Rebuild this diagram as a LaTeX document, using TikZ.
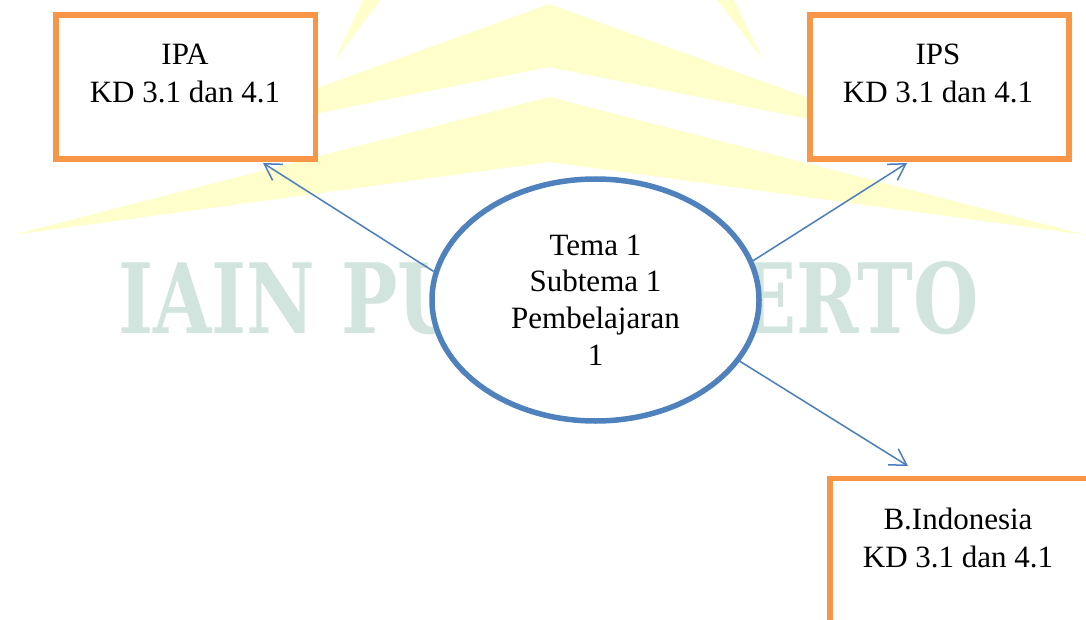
\documentclass[tikz,border=0pt]{standalone}
\usepackage{fontspec}
\usepackage{graphicx}
\setmainfont{Liberation Serif}
\newfontfamily\wmfont{DejaVu Serif}
\usetikzlibrary{arrows.meta,shapes.geometric}
\definecolor{kdorange}{HTML}{F79646}
\definecolor{ellblue}{HTML}{4F81BD}
\definecolor{arrblue}{HTML}{4A7EBB}
\definecolor{wmyellow}{HTML}{FFFFCC}
\definecolor{wmgreen}{HTML}{D2E4DE}
\begin{document}
\begin{tikzpicture}[x=1pt,y=-1pt,
  kdbox/.style={rectangle, draw=kdorange, line width=5.5pt, fill=white, inner sep=0pt, outer sep=0pt},
  kdtext/.style={anchor=base, align=center, inner sep=0pt, font=\fontsize{31}{38}\selectfont},
  centre/.style={ellipse, draw=ellblue, line width=5.5pt, fill=white, inner sep=0pt, align=center,
    minimum width=327pt, minimum height=242pt, font=\fontsize{31}{36.7}\selectfont},
  conn/.style={draw=arrblue, line width=1.5pt, -{Straight Barb[length=16pt,width=19pt,line width=1.5pt]}}]
\useasboundingbox (0,0) rectangle (1086,620);
\clip (0,0) rectangle (1086,620);
% watermark
\fill[wmyellow] (549,4) -- (160,145) -- (549,67) -- (938,145) -- cycle;
\fill[wmyellow] (549,97) -- (12,235) -- (549,162) -- (1086,235) -- cycle;
\fill[wmyellow] (335,60) -- (364,-2) -- (382,-2) -- cycle;
\fill[wmyellow] (763,60) -- (716,-2) -- (733,-2) -- cycle;
\node[anchor=south west, inner sep=0pt, text=wmgreen] (wm) at (118,335)
  {\resizebox{860pt}{72pt}{\wmfont\bfseries IAIN PURWOKERTO}};
% boxes
\node[kdbox, minimum width=259.5pt, minimum height=144pt] (ipa) at (185.75,87) {};
\node[kdtext] (ipat) at (185,103) {IPA\\KD 3.1 dan 4.1};
\node[kdbox, minimum width=259pt, minimum height=144pt] (ips) at (939.5,87) {};
\node[kdtext] (ipst) at (938,103) {IPS\\KD 3.1 dan 4.1};
\node[kdbox, minimum width=260pt, minimum height=180pt] (bind) at (960,568.5) {};
\node[kdtext] (bindt) at (958,567) {B.Indonesia\\KD 3.1 dan 4.1};
% centre
\node[centre] (ell) at (595.5,300) {Tema 1\\Subtema 1\\Pembelajaran\\1};
% connectors
\draw[conn] (ell.170) -- ([xshift=77.25pt,yshift=-4pt]ipa.south);
\draw[conn] (ell.14) -- ([xshift=-32.5pt,yshift=-4pt]ips.south);
\draw[conn] (ell.-23) -- ([xshift=-52pt,yshift=12.5pt]bind.north);
\end{tikzpicture}
\end{document}
